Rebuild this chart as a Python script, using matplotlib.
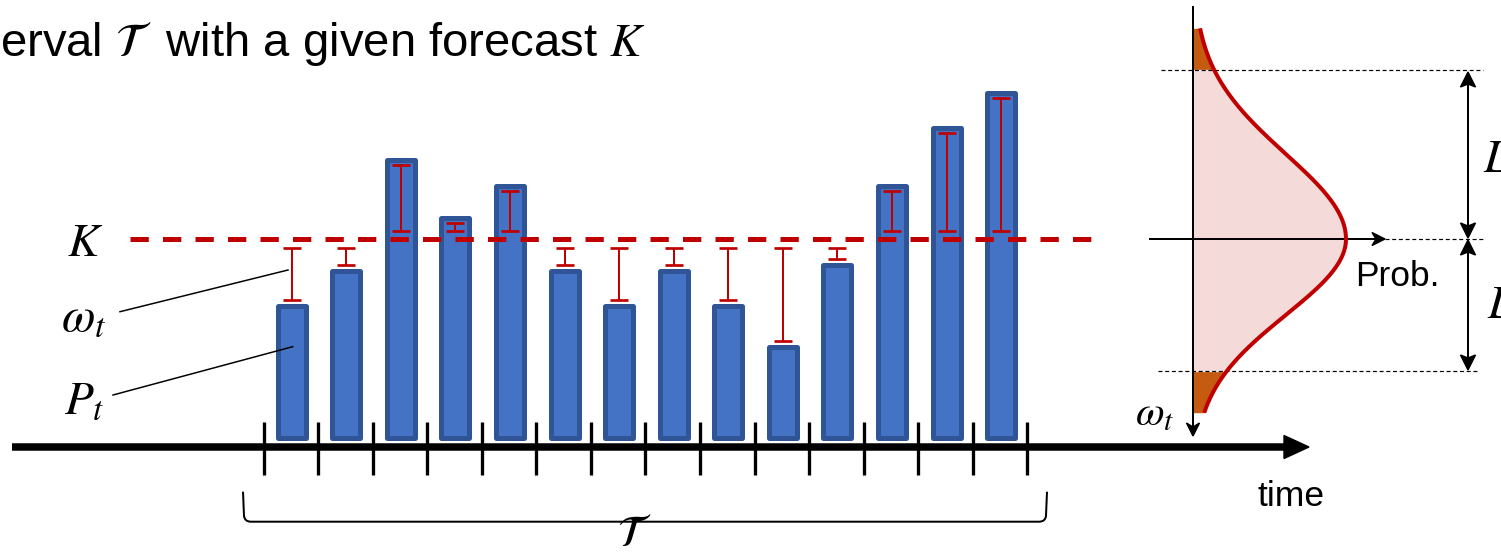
import numpy as np
import matplotlib
matplotlib.use("Agg")
import matplotlib.pyplot as plt
from matplotlib.patches import Polygon, PathPatch
from matplotlib.path import Path

# ---------------- data ----------------
P_values = [137, 172, 283, 225, 257, 172, 137, 172, 137, 96, 178, 257, 315, 350]
K_value = 201
n_ticks = 15
title_text = "erval $\\mathcal{T}$  with a given forecast $K$"
dist_sigma_up = 85
dist_sigma_down = 76
L_up = 169
L_down = 132

# ---------------- style ----------------
plt.rcParams['font.family'] = ['Liberation Sans', 'DejaVu Sans']
plt.rcParams['mathtext.fontset'] = 'stix'
PX = 0.72  # points per pixel at dpi 100
RED = '#C00000'
BAR_FILL = '#4472C4'
BAR_EDGE = '#2F5597'

fig = plt.figure(figsize=(15.01, 5.52), dpi=100)
ax = fig.add_axes([0, 0, 1, 1])
ax.set_xlim(0, 1501)
ax.set_ylim(-112, 440)
ax.axis('off')

# ---------------- time axis ----------------
tick0, step = 263.5, 54.57
tick_x = tick0 + step * np.arange(n_ticks)
centers = tick0 + step * (np.arange(len(P_values)) + 0.5) + 1

ax.plot([12, 1287], [-7, -7], color='black', lw=7.5 * PX, solid_capstyle='butt', zorder=2)
ax.add_patch(Polygon([(1284, 4.5), (1309, -7), (1284, -18.5)], closed=True,
                     color='black', zorder=2))
ax.vlines(tick_x, -35, 18.3, color='black', lw=3.3 * PX, zorder=2)

# ---------------- bars ----------------
P = np.array(P_values, dtype=float)
ax.bar(centers, P - 5, bottom=2.5, width=28, color=BAR_FILL, edgecolor=BAR_EDGE,
       linewidth=5 * PX, joinstyle='round', zorder=3)

# ---------------- omega error bars ----------------
tops, bots = [], []
for p in P:
    if p < K_value:
        tops.append(K_value - 9)
        bots.append(p + 3)
    else:
        tops.append(p - 7.5)
        bots.append(K_value + 8)
tops, bots = np.array(tops), np.array(bots)
ax.errorbar(centers, (tops + bots) / 2, yerr=(tops - bots) / 2, fmt='none',
            ecolor=RED, elinewidth=2 * PX, capsize=9.3 * PX, capthick=2.7 * PX, zorder=5)

# ---------------- K line ----------------
ax.plot([130, 1098], [K_value, K_value], color=RED, lw=5 * PX,
        dashes=(18.3 / 5, 14.2 / 5), dash_capstyle='butt', zorder=4)

# ---------------- left labels ----------------
ax.text(85, 183.5, r'$K$', fontsize=34, ha='center', va='baseline')
ax.text(61, 110, r'$\omega_t$', fontsize=35, ha='left', va='baseline')
ax.text(64, 26.7, r'$P_t$', fontsize=34, ha='left', va='baseline')
ax.plot([120, 288], [440 - 311.7, 440 - 270], color='black', lw=1.5 * PX, zorder=6)
ax.plot([113, 292.7], [440 - 395, 440 - 346.7], color='black', lw=1.5 * PX, zorder=6)

# ---------------- title ----------------
ax.text(0.5, 440 - 56, title_text, fontsize=34, ha='left', va='baseline')

# ---------------- brace ----------------
bx0, bx1, btop, bbot, r = 243, 1047, -51.7, -81.7, 6
verts = [(bx0, btop), (bx0 + 1, bbot + r), (bx0 + 1.5, bbot), (bx0 + r + 2, bbot),
         (bx1 - r - 2, bbot), (bx1 - 1.5, bbot), (bx1 - 1, bbot + r), (bx1, btop)]
codes = [Path.MOVETO, Path.LINETO, Path.CURVE3, Path.CURVE3,
         Path.LINETO, Path.CURVE3, Path.CURVE3, Path.LINETO]
ax.add_patch(PathPatch(Path(verts, codes), fill=False, lw=2 * PX, edgecolor='black'))
ax.text(634, -106, r'$\mathcal{T}$', fontsize=32, ha='center', va='baseline')

# ---------------- distribution panel ----------------
ax_x = 1193
peak = 153
y_top_end, y_bot_end = 411.7, 27.3
ys = np.linspace(y_bot_end, y_top_end, 600)
sig = np.where(ys >= K_value, dist_sigma_up, dist_sigma_down)
xs = ax_x + peak * np.exp(-(ys - K_value) ** 2 / (2 * sig ** 2))

up_line = K_value + L_up
lo_line = K_value - L_down
mid = (ys >= lo_line) & (ys <= up_line)
ax.fill_betweenx(ys, ax_x, xs, where=mid, color='#F5DADA', lw=0, zorder=2)
ax.fill_betweenx(ys, ax_x, xs, where=ys >= up_line, color='#C55A11', lw=0, zorder=2)
ax.fill_betweenx(ys, ax_x, xs, where=ys <= lo_line, color='#C55A11', lw=0, zorder=2)
ax.plot(xs, ys, color=RED, lw=4 * PX, zorder=4, solid_capstyle='butt')

# vertical omega axis with arrow
ax.plot([ax_x, ax_x], [433, 12], color='black', lw=2 * PX, zorder=3)
ax.add_patch(Polygon([(ax_x, 4), (ax_x - 6.5, 17), (ax_x, 13), (ax_x + 6.5, 17)],
                     closed=True, color='black', zorder=3))
ax.text(1135, 15, r'$\omega_t$', fontsize=30, ha='left', va='baseline')

# horizontal Prob axis
ax.plot([1150, 1380], [K_value, K_value], color='black', lw=2 * PX, zorder=3)
ax.add_patch(Polygon([(1385, K_value), (1372, K_value + 6.5), (1376, K_value),
                      (1372, K_value - 6.5)], closed=True, color='black', zorder=3))
ax.text(1355, 154, 'Prob.', fontsize=25.5, ha='left', va='baseline')

# dashed reference lines
dash_kw = dict(color='black', lw=1.2 * PX, dashes=(4 / 1.2, 2.7 / 1.2), zorder=3)
ax.plot([1385, 1483], [K_value, K_value], **dash_kw)
ax.plot([1161, 1483], [up_line, up_line], **dash_kw)
ax.plot([1158, 1477], [lo_line, lo_line], **dash_kw)

# double arrows for L
arr_x = 1468


def head(tip_y, direction):
    # direction +1: pointing up, -1: pointing down
    b = tip_y - direction * 15
    n = tip_y - direction * 12
    return Polygon([(arr_x, tip_y), (arr_x - 7.5, b), (arr_x, n), (arr_x + 7.5, b)],
                   closed=True, color='black', zorder=3)


ax.plot([arr_x, arr_x], [up_line - 5, K_value + 6], color='black', lw=2 * PX)
ax.add_patch(head(up_line - 2, +1))
ax.add_patch(head(K_value + 1, -1))
ax.plot([arr_x, arr_x], [K_value - 6, lo_line + 5], color='black', lw=2 * PX)
ax.add_patch(head(K_value - 1, +1))
ax.add_patch(head(lo_line + 1, -1))

ax.text(1483, 440 - 171.7, r'$L$', fontsize=34, ha='left', va='baseline')
ax.text(1487, 440 - 317.7, r'$L$', fontsize=34, ha='left', va='baseline')

# time label
ax.text(1258, -66, 'time', fontsize=25.5, ha='left', va='baseline')

fig.savefig('out.png', dpi=100)
